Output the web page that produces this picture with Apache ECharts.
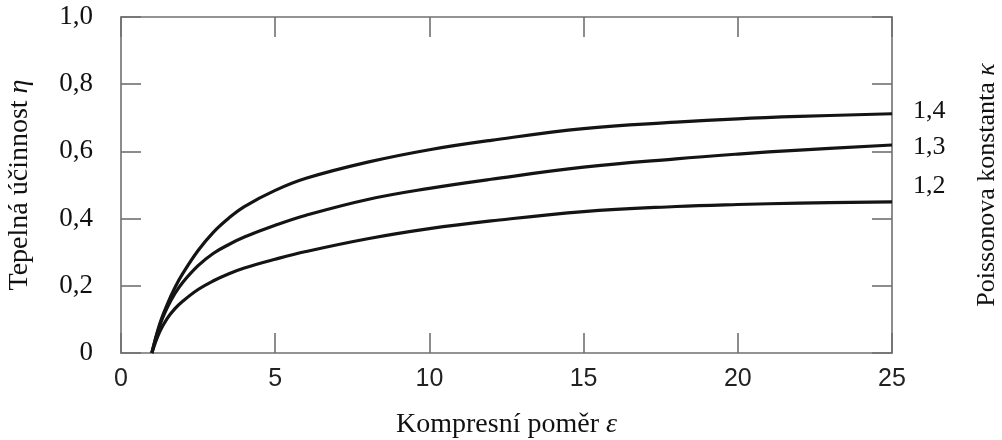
<!DOCTYPE html>
<html>
<head>
<meta charset="utf-8">
<script src="https://cdn.jsdelivr.net/npm/echarts@6/dist/echarts.min.js"></script>
<style>
  html, body { margin: 0; padding: 0; background: #fff; }
  #chart { width: 1002px; height: 440px; }
</style>
</head>
<body>
<div id="chart"></div>
<script>
// Compression ratio ε (x) and thermal efficiency η for three values of κ
const compressionRatio = [1, 1.25, 1.5, 1.75, 2, 2.5, 3, 3.5, 4, 5, 6, 8, 10, 12, 15, 18, 20, 22, 25];
const etaKappa14 = [0, 0.085, 0.145, 0.195, 0.236, 0.305, 0.36, 0.402, 0.436, 0.484, 0.52, 0.568, 0.605, 0.633, 0.668, 0.687, 0.697, 0.704, 0.712];
const etaKappa13 = [0, 0.08, 0.135, 0.177, 0.21, 0.26, 0.297, 0.323, 0.345, 0.38, 0.41, 0.457, 0.49, 0.517, 0.553, 0.578, 0.592, 0.604, 0.619];
const etaKappa12 = [0, 0.062, 0.103, 0.132, 0.154, 0.189, 0.215, 0.236, 0.253, 0.279, 0.302, 0.34, 0.37, 0.393, 0.421, 0.436, 0.442, 0.446, 0.45];
const seriesNames = ['1,4', '1,3', '1,2'];
const xTicks = [0, 5, 10, 15, 20, 25];
const yTickLabels = ['0', '0,2', '0,4', '0,6', '0,8', '1,0'];

const serif = '"Liberation Serif", "DejaVu Serif", serif';
const sans = '"Liberation Sans", Arial, sans-serif';
const axisGray = '#707070';

function pairs(values) {
  return compressionRatio.map((x, i) => [x, values[i]]);
}

const chart = echarts.init(document.getElementById('chart'), null, { renderer: 'canvas' });

function curve(name, values, labelOffset) {
  return {
    name: name,
    type: 'line',
    data: pairs(values),
    smooth: 0.4,
    showSymbol: false,
    symbol: 'none',
    lineStyle: { color: '#141414', width: 3.2 },
    itemStyle: { color: '#141414' },
    endLabel: {
      show: true,
      formatter: name,
      distance: 21,
      offset: labelOffset,
      fontFamily: serif,
      fontSize: 26,
      color: '#111'
    },
    z: 5
  };
}

function axisName(text, symbol, size) {
  return {
    name: '{t|' + text + '}{i|' + symbol + '}',
    nameTextStyle: {
      rich: {
        t: { fontFamily: serif, fontSize: size, color: '#111' },
        i: { fontFamily: serif, fontSize: size, fontStyle: 'italic', color: '#111' }
      }
    }
  };
}

const tickLine = { show: true, inside: true, length: 20, lineStyle: { color: axisGray, width: 1.6 } };
const frameLine = { show: true, onZero: false, lineStyle: { color: axisGray, width: 1.6 } };

chart.setOption({
  animation: false,
  backgroundColor: '#fff',
  grid: { left: 121, right: 110, top: 17, bottom: 87, containLabel: false, outerBoundsMode: 'none' },
  xAxis: [
    Object.assign({
      type: 'value', min: 0, max: 25, interval: 5, position: 'bottom',
      axisLine: frameLine, axisTick: tickLine, splitLine: { show: false },
      axisLabel: {
        margin: 14, fontFamily: sans, fontSize: 25, color: '#222',
        formatter: v => (xTicks.indexOf(v) >= 0 ? String(v) : '')
      },
      nameLocation: 'middle', nameGap: 58
    }, axisName('Kompresní poměr ', 'ε', 28)),
    {
      type: 'value', min: 0, max: 25, interval: 5, position: 'top',
      axisLine: frameLine, axisTick: tickLine, axisLabel: { show: false }, splitLine: { show: false }
    }
  ],
  yAxis: [
    Object.assign({
      type: 'value', min: 0, max: 1, interval: 0.2, position: 'left',
      axisLine: frameLine, axisTick: tickLine, splitLine: { show: false },
      axisLabel: {
        margin: 28, fontFamily: serif, fontSize: 27, color: '#111',
        formatter: v => yTickLabels[Math.round(v * 5)]
      },
      nameLocation: 'middle', nameGap: 87, nameRotate: 90
    }, axisName('Tepelná účinnost ', 'η', 28)),
    Object.assign({
      type: 'value', min: 0, max: 1, interval: 0.2, position: 'right',
      axisLine: frameLine, axisTick: tickLine, axisLabel: { show: false }, splitLine: { show: false },
      nameLocation: 'middle', nameGap: 82, nameRotate: 90
    }, axisName('Poissonova konstanta ', 'κ', 26))
  ],
  series: [
    curve(seriesNames[0], etaKappa14, [0, -3]),
    curve(seriesNames[1], etaKappa13, [0, 2]),
    curve(seriesNames[2], etaKappa12, [0, -16])
  ]
});
</script>
</body>
</html>
